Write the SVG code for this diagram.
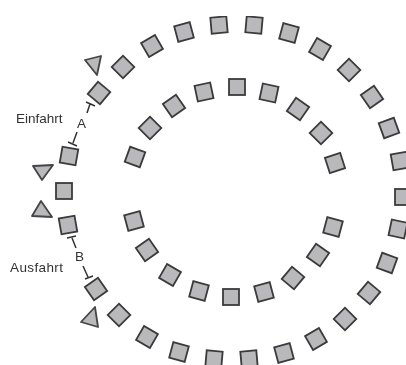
<svg xmlns="http://www.w3.org/2000/svg" width="406" height="365" viewBox="0 0 406 365">
<style>
.s{fill:#b9b9bc;stroke:#3a3a3a;stroke-width:1.8}
.t{fill:#b9b9bc;stroke:#444;stroke-width:1.8;stroke-linejoin:round}
.l{font-family:"Liberation Sans",Arial,sans-serif;font-size:13.5px;fill:#333}
.c{fill:none;stroke:#333;stroke-width:1.5}
</style>
<defs>
<rect id="q" class="s" x="-8" y="-8" width="16" height="16"/>
<filter id="soft" x="0" y="0" width="100%" height="100%"><feGaussianBlur stdDeviation="0.4"/></filter>
</defs>
<rect width="406" height="365" fill="#fff"/>
<g filter="url(#soft)">
<g id="outer-ring">
<g id="o1"><use href="#q" transform="translate(123 67) rotate(45)"/></g>
<g id="o2"><use href="#q" transform="translate(152 46) rotate(-30)"/></g>
<g id="o3"><use href="#q" transform="translate(184 32) rotate(-15)"/></g>
<g id="o4"><use href="#q" transform="translate(219 25) rotate(-5)"/></g>
<g id="o5"><use href="#q" transform="translate(254 25) rotate(5)"/></g>
<g id="o6"><use href="#q" transform="translate(289 33) rotate(15)"/></g>
<g id="o7"><use href="#q" transform="translate(320 49) rotate(30)"/></g>
<g id="o8"><use href="#q" transform="translate(349 70) rotate(45)"/></g>
<g id="o9"><use href="#q" transform="translate(372 97) rotate(55)"/></g>
<g id="o10"><use href="#q" transform="translate(389 128) rotate(70)"/></g>
<g id="o11"><use href="#q" transform="translate(400 161) rotate(80)"/></g>
<g id="o12"><use href="#q" transform="translate(403 197)"/></g>
<g id="o13"><use href="#q" transform="translate(398 229) rotate(12)"/></g>
<g id="o14"><use href="#q" transform="translate(387 263) rotate(20)"/></g>
<g id="o15"><use href="#q" transform="translate(369 293) rotate(40)"/></g>
<g id="o16"><use href="#q" transform="translate(345 319) rotate(45)"/></g>
<g id="o17"><use href="#q" transform="translate(316 339) rotate(-30)"/></g>
<g id="o18"><use href="#q" transform="translate(284 353) rotate(-15)"/></g>
<g id="o19"><use href="#q" transform="translate(249 359) rotate(-5)"/></g>
<g id="o20"><use href="#q" transform="translate(214 359) rotate(5)"/></g>
<g id="o21"><use href="#q" transform="translate(179 352) rotate(15)"/></g>
<g id="o22"><use href="#q" transform="translate(147 337) rotate(30)"/></g>
<g id="o23"><use href="#q" transform="translate(119 315) rotate(45)"/></g>
<g id="o24"><use href="#q" transform="translate(96 289) rotate(55)"/></g>
<g id="o25"><use href="#q" transform="translate(68 225) rotate(-10)"/></g>
<g id="o26"><use href="#q" transform="translate(64 191)"/></g>
<g id="o27"><use href="#q" transform="translate(69 156) rotate(10)"/></g>
<g id="o28"><use href="#q" transform="translate(99 93) rotate(40)"/></g>
</g>
<g id="inner-ring">
<g id="i1"><use href="#q" transform="translate(135 157) rotate(20)"/></g>
<g id="i2"><use href="#q" transform="translate(150 128) rotate(45)"/></g>
<g id="i3"><use href="#q" transform="translate(174 106) rotate(-35)"/></g>
<g id="i4"><use href="#q" transform="translate(204 92) rotate(-12)"/></g>
<g id="i5"><use href="#q" transform="translate(237 87)"/></g>
<g id="i6"><use href="#q" transform="translate(269 93) rotate(12)"/></g>
<g id="i7"><use href="#q" transform="translate(298 109) rotate(35)"/></g>
<g id="i8"><use href="#q" transform="translate(321 133) rotate(45)"/></g>
<g id="i9"><use href="#q" transform="translate(335 163) rotate(-18)"/></g>
<g id="i10"><use href="#q" transform="translate(333 227) rotate(15)"/></g>
<g id="i11"><use href="#q" transform="translate(318 255) rotate(35)"/></g>
<g id="i12"><use href="#q" transform="translate(293 278) rotate(40)"/></g>
<g id="i13"><use href="#q" transform="translate(264 292) rotate(-15)"/></g>
<g id="i14"><use href="#q" transform="translate(231 297)"/></g>
<g id="i15"><use href="#q" transform="translate(199 291) rotate(15)"/></g>
<g id="i16"><use href="#q" transform="translate(170 275) rotate(30)"/></g>
<g id="i17"><use href="#q" transform="translate(147 250) rotate(-35)"/></g>
<g id="i18"><use href="#q" transform="translate(134 221) rotate(-15)"/></g>
</g>
<g id="triangles">
<g id="t1"><polygon class="t" points="85,60 101,56 97,75"/></g>
<g id="t2"><polygon class="t" points="33,166 53,165 42,180"/></g>
<g id="t3"><polygon class="t" points="41,201 32,216 52,217"/></g>
<g id="t4"><polygon class="t" points="95,307 81,322 98,327"/></g>
</g>
<g id="connectors">
<path class="c" d="M86 102L95 106M90 104L87 113M77 132L73 143M68 142L77 146"/>
<path class="c" d="M67 238L76 236M72 238L76 248M83 266L88 277M85 279L93 276"/>
</g>
<g id="labels">
<text class="l" x="16" y="123">Einfahrt</text>
<text class="l" x="10" y="272" textLength="53">Ausfahrt</text>
<text class="l" x="77" y="128">A</text>
<text class="l" x="75" y="261">B</text>
</g>
</g>
</svg>
